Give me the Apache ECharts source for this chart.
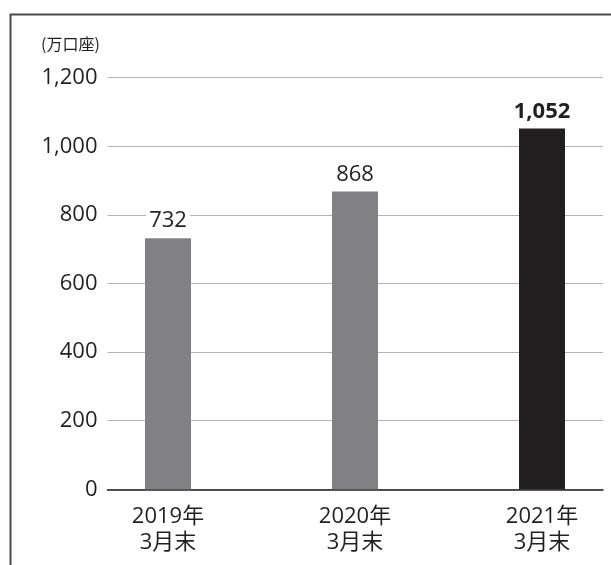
<!DOCTYPE html>
<html>
<head>
<meta charset="utf-8">
<script src="https://cdn.jsdelivr.net/npm/echarts@6/dist/echarts.min.js"></script>
<style>
html,body{margin:0;padding:0;background:#fff;}
#c{width:611px;height:565px;}
</style>
</head>
<body>
<div id="c"></div>
<script>
const categories = ['2019年\n3月末', '2020年\n3月末', '2021年\n3月末'];
const values = [732, 868, 1052];
const unitLabel = '(万口座)';
const yMin = 0, yMax = 1200, yStep = 200;

const FONT = '"Open Sans", "Noto Sans CJK JP", sans-serif';
const TXT = '#231f20';
const barColors = ['#818185', '#818185', '#231f20'];

const chart = echarts.init(document.getElementById('c'), null, {renderer: 'canvas'});
chart.setOption({
  animation: false,
  backgroundColor: '#fff',
  textStyle: {fontFamily: FONT},
  title: {
    text: unitLabel, left: 36, top: 31,
    textStyle: {fontFamily: '"Noto Sans CJK JP", sans-serif', fontSize: 16, fontWeight: 'normal', color: TXT}
  },
  graphic: [{
    type: 'polyline',
    shape: {points: [[10.5, 565], [10.5, 14.5], [611, 14.5]]},
    style: {stroke: '#4a4a4a', lineWidth: 2, fill: null}
  }],
  grid: [
    {left: 107.5, right: 8, top: 77.7, bottom: 75.7, outerBoundsMode: 'none', containLabel: false},
    {left: 74.5, width: 561, top: 77.7, bottom: 75.7, outerBoundsMode: 'none', containLabel: false}
  ],
  xAxis: [
    {gridIndex: 0, type: 'category', data: categories,
     axisLine: {show: true, lineStyle: {color: TXT, width: 1.5}},
     axisTick: {show: false}, axisLabel: {show: false}, splitLine: {show: false}},
    {gridIndex: 1, type: 'category', data: categories,
     axisLine: {show: false}, axisTick: {show: false},
     axisLabel: {fontFamily: FONT, fontSize: 22, color: TXT, margin: 14, lineHeight: 26}}
  ],
  yAxis: [
    {gridIndex: 0, type: 'value', min: yMin, max: yMax, interval: yStep,
     axisLine: {show: false}, axisTick: {show: false},
     axisLabel: {fontFamily: FONT, fontSize: 22, color: TXT, margin: 10,
       formatter: v => v.toLocaleString('en-US')},
     splitLine: {lineStyle: {color: '#b3b3b3', width: 1}}},
    {gridIndex: 1, type: 'value', min: yMin, max: yMax, interval: yStep,
     show: false, splitLine: {show: false}}
  ],
  series: [{
    type: 'bar', xAxisIndex: 1, yAxisIndex: 1, barWidth: 46,
    data: values.map((v, i) => ({
      value: v,
      itemStyle: {color: barColors[i]},
      label: {fontWeight: i === 2 ? 'bold' : 'normal'}
    })),
    label: {
      show: true, position: 'top', distance: 6,
      fontFamily: FONT, fontSize: 22, color: TXT,
      backgroundColor: '#fff', padding: [0, 3, 0, 3],
      formatter: p => p.value.toLocaleString('en-US')
    }
  }]
});
</script>
</body>
</html>
